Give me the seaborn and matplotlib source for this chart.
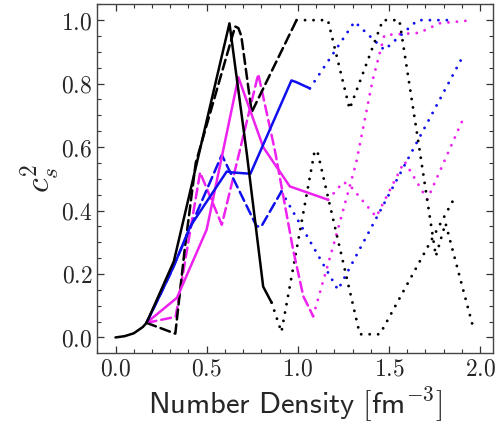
import numpy as np
import pandas as pd
import matplotlib
matplotlib.use("Agg")
import matplotlib.pyplot as plt
from matplotlib.ticker import MultipleLocator, FuncFormatter
import seaborn as sns

# --- données ---
# tronc commun basse densité
x_commun = [0.0, 0.05, 0.10, 0.15, 0.17]
y_commun = [0.0, 0.004, 0.013, 0.033, 0.046]

# noir
x_noir_plein = [0.17, 0.22, 0.32, 0.625, 0.72, 0.81, 0.856]
y_noir_plein = [0.046, 0.11, 0.24, 0.99, 0.58, 0.16, 0.11]
x_noir_tiret = [0.17, 0.328, 0.38, 0.44, 0.656, 0.674, 0.69, 0.747, 0.993]
y_noir_tiret = [0.046, 0.012, 0.28, 0.55, 0.98, 0.975, 0.95, 0.71, 1.0]
x_noir_pt_a = [0.993, 1.165, 1.284, 1.466, 1.557, 1.66, 1.757, 1.81, 1.967]
y_noir_pt_a = [1.0, 1.0, 0.72, 1.0, 1.0, 0.62, 0.256, 0.36, 0.02]
x_noir_pt_b = [0.856, 0.91, 1.093, 1.11, 1.34, 1.45, 1.85]
y_noir_pt_b = [0.11, 0.017, 0.59, 0.58, 0.01, 0.01, 0.43]

# bleu
x_bleu_plein = [0.17, 0.25, 0.32, 0.41, 0.61, 0.64, 0.74, 0.965, 0.99, 1.066]
y_bleu_plein = [0.046, 0.14, 0.225, 0.35, 0.523, 0.52, 0.516, 0.81, 0.805, 0.785]
x_bleu_tiret = [0.17, 0.30, 0.583, 0.774, 0.80, 0.91]
y_bleu_tiret = [0.046, 0.20, 0.575, 0.35, 0.35, 0.46]
x_bleu_pt_a = [1.066, 1.311, 1.475, 1.657, 1.858]
y_bleu_pt_a = [0.785, 0.995, 0.906, 1.0, 1.0]
x_bleu_pt_b = [0.91, 1.22, 1.895]
y_bleu_pt_b = [0.46, 0.15, 0.875]

# magenta
x_mag_plein = [0.17, 0.337, 0.50, 0.674, 0.81, 0.956, 1.166]
y_mag_plein = [0.046, 0.125, 0.34, 0.82, 0.60, 0.476, 0.434]
x_mag_tiret = [0.17, 0.33, 0.464, 0.583, 0.783, 0.874, 0.974, 1.03, 1.084]
y_mag_tiret = [0.046, 0.065, 0.52, 0.355, 0.83, 0.59, 0.277, 0.13, 0.067]
x_mag_pt_a = [1.084, 1.20, 1.32, 1.41, 1.475, 1.667, 1.776, 1.96]
y_mag_pt_a = [0.067, 0.30, 0.55, 0.81, 0.953, 0.96, 0.99, 1.0]
x_mag_pt_b = [1.166, 1.25, 1.29, 1.43, 1.585, 1.71, 1.90]
y_mag_pt_b = [0.434, 0.49, 0.476, 0.38, 0.555, 0.435, 0.68]

NOIR, BLEU, MAG = "black", "#1010ee", "#ee22ee"
PLEIN, TIRET, POINT = "-", (0, (4, 2)), (0, (0.01, 2.9))

segments = [
    (x_mag_pt_a, y_mag_pt_a, MAG, POINT),
    (x_mag_pt_b, y_mag_pt_b, MAG, POINT),
    (x_bleu_pt_a, y_bleu_pt_a, BLEU, POINT),
    (x_bleu_pt_b, y_bleu_pt_b, BLEU, POINT),
    (x_noir_pt_a, y_noir_pt_a, NOIR, POINT),
    (x_noir_pt_b, y_noir_pt_b, NOIR, POINT),
    (x_mag_tiret, y_mag_tiret, MAG, TIRET),
    (x_bleu_tiret, y_bleu_tiret, BLEU, TIRET),
    (x_noir_tiret, y_noir_tiret, NOIR, TIRET),
    (x_mag_plein, y_mag_plein, MAG, PLEIN),
    (x_bleu_plein, y_bleu_plein, BLEU, PLEIN),
    (x_noir_plein, y_noir_plein, NOIR, PLEIN),
    (x_commun, y_commun, NOIR, PLEIN),
]

sns.set_style("ticks")
plt.rcParams["mathtext.fontset"] = "cm"
plt.rcParams["font.family"] = ["DejaVu Serif"]

fig = plt.figure(figsize=(5.04, 4.28), dpi=100)
ax = fig.add_axes([0.193, 0.176, 0.785, 0.814])

for xs, ys, couleur, style in segments:
    df = pd.DataFrame({"x": xs, "y": ys})
    epaisseur = 2.1 if style is POINT else 1.8
    sns.lineplot(data=df, x="x", y="y", sort=False, estimator=None,
                 color=couleur, linestyle=style, linewidth=epaisseur,
                 dash_capstyle="round", ax=ax)

ax.set_xlim(-0.1, 2.07)
ax.set_ylim(-0.048, 1.05)
ax.xaxis.set_major_locator(MultipleLocator(0.5))
ax.xaxis.set_minor_locator(MultipleLocator(0.1))
ax.yaxis.set_major_locator(MultipleLocator(0.2))
ax.yaxis.set_minor_locator(MultipleLocator(0.05))
fmt = FuncFormatter(lambda v, p: f"${v:.1f}$")
ax.xaxis.set_major_formatter(fmt)
ax.yaxis.set_major_formatter(fmt)
ax.tick_params(which="both", direction="in", top=True, right=True,
               color="#333333", labelsize=17)
ax.tick_params(which="major", length=5, width=0.9)
ax.tick_params(which="minor", length=3, width=0.8)
for s in ax.spines.values():
    s.set_color("#444444")
    s.set_linewidth(1.0)

ax.set_xlabel(r"$\mathsf{Number\ Density\ [fm^{-3}]}$", fontsize=22, labelpad=3)
ax.set_ylabel(r"$c_s^2$", fontsize=24, labelpad=-1)

fig.savefig("out.png", dpi=100)
